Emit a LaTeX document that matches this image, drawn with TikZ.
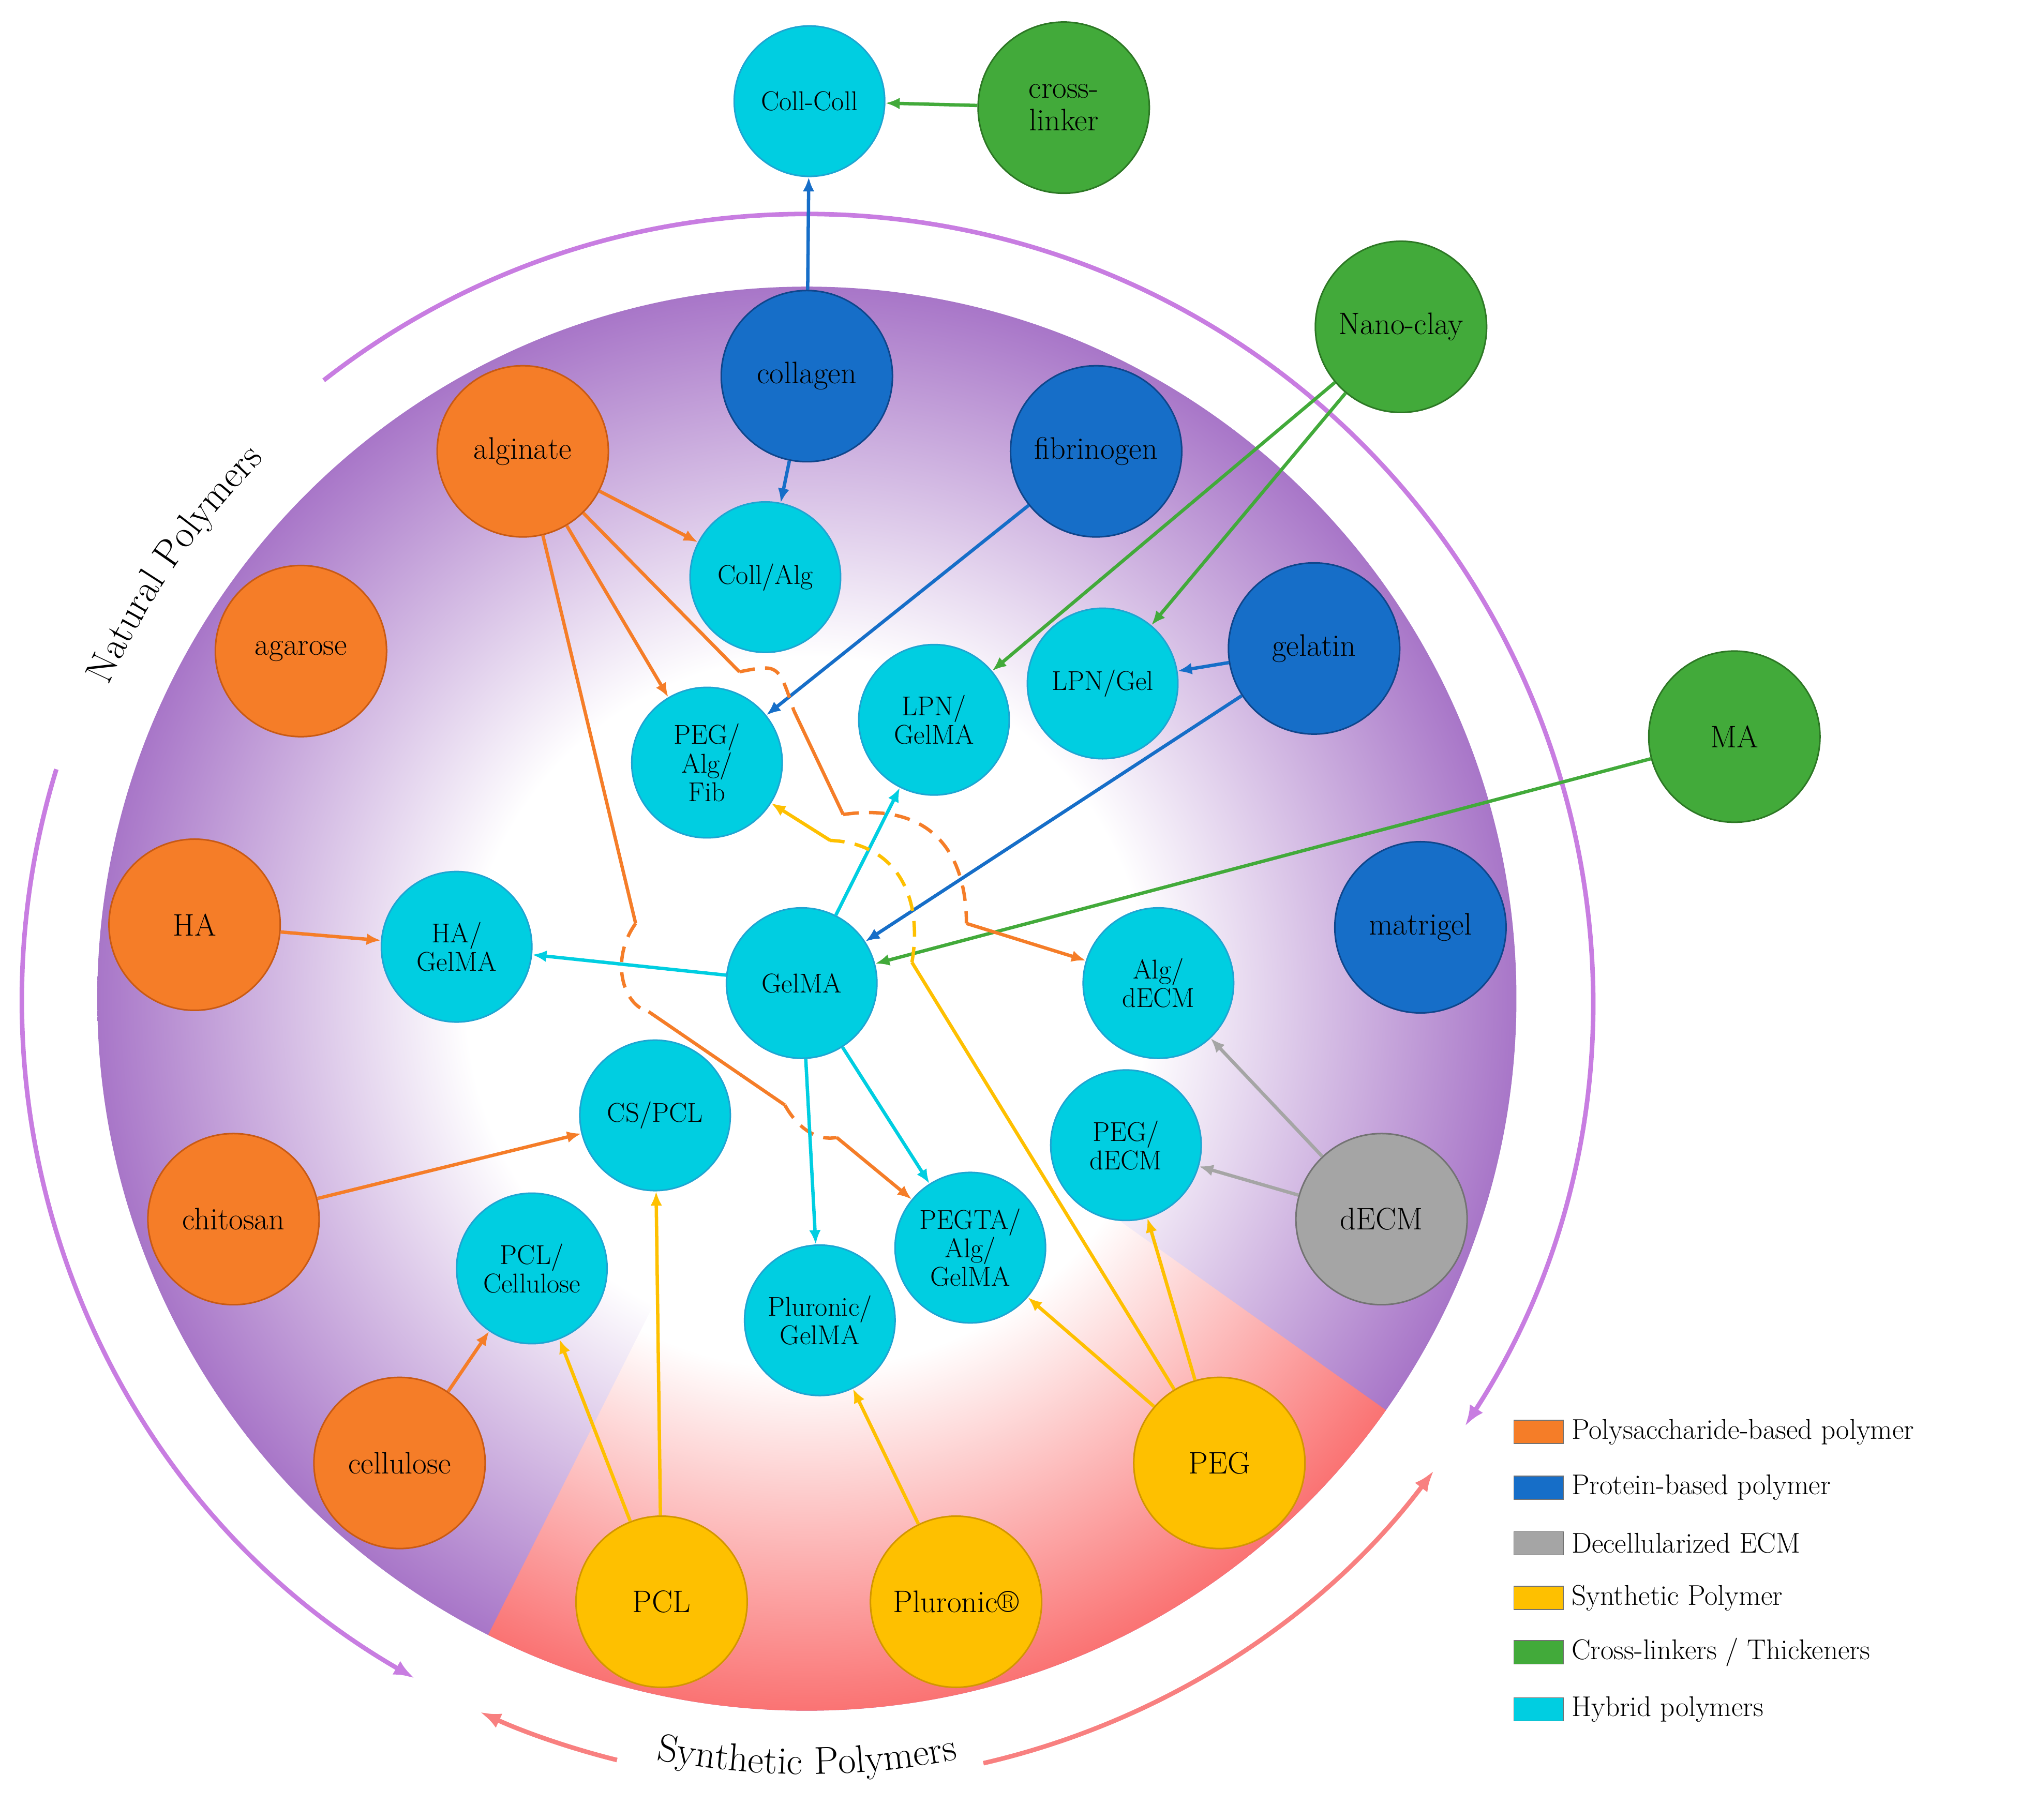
\documentclass[tikz,border=0pt]{standalone}
\usetikzlibrary{arrows.meta,calc,decorations.text}
\definecolor{purp}{RGB}{168,118,200}
\definecolor{redz}{RGB}{250,115,115}
\definecolor{orng}{RGB}{245,125,40}
\definecolor{orngd}{RGB}{200,90,20}
\definecolor{blu}{RGB}{22,110,200}
\definecolor{blud}{RGB}{15,70,140}
\definecolor{cya}{RGB}{0,206,225}
\definecolor{cyad}{RGB}{30,165,210}
\definecolor{grn}{RGB}{66,170,58}
\definecolor{grnd}{RGB}{45,120,37}
\definecolor{yel}{RGB}{254,192,0}
\definecolor{yeld}{RGB}{210,150,0}
\definecolor{gry}{RGB}{165,165,165}
\definecolor{gryd}{RGB}{115,115,115}
\definecolor{natc}{RGB}{200,125,225}
\definecolor{sync}{RGB}{248,128,128}
\pgfdeclareradialshading{purpsh}{\pgfpoint{0bp}{0bp}}{color(0bp)=(white); color(12bp)=(white); color(25bp)=(purp); color(50bp)=(purp)}
\pgfdeclareradialshading{redsh}{\pgfpoint{0bp}{0bp}}{color(0bp)=(white); color(13bp)=(white); color(25bp)=(redz); color(50bp)=(redz)}
\begin{document}
\begin{tikzpicture}[x=1pt,y=1pt,
  big/.style={circle,minimum size=132pt,inner sep=0pt,line width=1.2pt,align=center,font=\fontsize{24}{25}\selectfont},
  hyb/.style={circle,minimum size=116pt,inner sep=0pt,line width=1.2pt,align=center,fill=cya,draw=cyad,font=\fontsize{21}{22}\selectfont},
  po/.style={big,fill=orng,draw=orngd},
  pb/.style={big,fill=blu,draw=blud},
  pg/.style={big,fill=grn,draw=grnd},
  py/.style={big,fill=yel,draw=yeld},
  pgr/.style={big,fill=gry,draw=gryd},
  ar/.style={line width=2.6pt,-{Latex[length=11pt,width=9pt]}},
  ln/.style={line width=2.6pt},
  dsh/.style={line width=2.6pt,dash pattern=on 12pt off 8pt},
  lg/.style={minimum width=38pt,minimum height=18pt,inner sep=0pt,draw=gryd,line width=0.6pt},
  lt/.style={anchor=west,font=\fontsize{22}{23}\selectfont}]
\useasboundingbox (0,0) rectangle (1568,-1403);
\coordinate (C) at (622,-770);
\shade[shading=purpsh] (C) ellipse (547 and 549);
\begin{scope}
\clip (C) -- ++(-116.6:800) arc (-116.6:-35.4:800) -- cycle;
\shade[shading=redsh] (C) ellipse (547 and 549);
\end{scope}
% outer arcs
\draw[natc,line width=3.5pt,-{Latex[length=16pt,width=12pt]}] ($(C)+(163:605)$) arc (163:240:605);
\draw[natc,line width=3.5pt,-{Latex[length=16pt,width=12pt]}] ($(C)+(128:605)$) arc (128:-33:605);
\draw[sync,line width=3.5pt,-{Latex[length=16pt,width=12pt]}] ($(C)+(-104:605)$) arc (-104:-114.6:605);
\draw[sync,line width=3.5pt,-{Latex[length=16pt,width=12pt]}] ($(C)+(-77:605)$) arc (-77:-37:605);
\path[decorate,decoration={text along path,text={|\fontsize{30}{31}\selectfont|Natural Polymers},text align=center}] ($(C)+(164:590)$) arc (164:127:590);
\path[decorate,decoration={text along path,text={|\fontsize{30}{31}\selectfont|Synthetic Polymers},text align=center}] ($(C)+(-106:598)$) arc (-106:-74:598);
% nodes
\node[hyb] (cc) at (624,-78) {Coll-Coll};
\node[pg] (cl) at (820,-83) {cross-\\linker};
\node[pb] (col) at (622,-290) {collagen};
\node[po] (alg) at (403,-348) {alginate};
\node[pb] (fib) at (845,-348) {fibrinogen};
\node[hyb] (ca) at (590,-445) {Coll/Alg};
\node[po] (aga) at (232,-502) {agarose};
\node[pg] (nc) at (1080,-252) {Nano-clay};
\node[pb] (gel) at (1013,-500) {gelatin};
\node[hyb] (lg) at (850,-527) {LPN/Gel};
\node[hyb] (lgm) at (720,-555) {LPN/\\GelMA};
\node[hyb] (paf) at (545,-588) {PEG/\\Alg/\\Fib};
\node[pg] (ma) at (1337,-568) {MA};
\node[pb] (mat) at (1095,-715) {matrigel};
\node[po] (ha) at (150,-713) {HA};
\node[hyb] (hag) at (352,-730) {HA/\\GelMA};
\node[hyb] (gm) at (618,-758) {GelMA};
\node[hyb] (ad) at (893,-758) {Alg/\\dECM};
\node[hyb] (cs) at (505,-860) {CS/PCL};
\node[hyb] (pd) at (868,-883) {PEG/\\dECM};
\node[pgr] (de) at (1065,-940) {dECM};
\node[po] (chi) at (180,-940) {chitosan};
\node[hyb] (pcc) at (410,-978) {PCL/\\Cellulose};
\node[hyb] (pag) at (748,-962) {PEGTA/\\Alg/\\GelMA};
\node[hyb] (plg) at (632,-1018) {Pluronic/\\GelMA};
\node[po] (cel) at (308,-1128) {cellulose};
\node[py] (peg) at (940,-1128) {PEG};
\node[py] (pcl) at (510,-1235) {PCL};
\node[py] (plu) at (737,-1235) {Pluronic\textregistered};
% edges blue
\draw[ar,blu] (col) -- (cc);
\draw[ar,blu] (col) -- (ca);
\draw[ar,blu] (fib) -- (paf);
\draw[ar,blu] (gel) -- (lg);
\draw[ar,blu] (gel) -- (gm);
\draw[ar,grn] (cl) -- (cc);
\draw[ar,grn] (nc) -- (lgm);
\draw[ar,grn] (nc) -- (lg);
\draw[ar,grn] (ma) -- (gm);
% orange
\draw[ar,orng] (alg) -- (ca);
\draw[ar,orng] (alg) -- (paf);
\coordinate (a1) at (570,-518); \coordinate (a2) at (612,-548);
\coordinate (a3) at (650,-628); \coordinate (a4) at (745,-712);
\draw[ln,orng] (alg) -- (a1);
\draw[dsh,orng] (a1) .. controls (600,-512) .. (a2);
\draw[ln,orng] (a2) -- (a3);
\draw[dsh,orng] (a3) .. controls (720,-618) and (745,-660) .. (a4);
\draw[ar,orng] (a4) -- (ad);
\coordinate (b1) at (490,-712); \coordinate (b2) at (500,-780);
\coordinate (b3) at (605,-852); \coordinate (b4) at (645,-877);
\draw[ln,orng] (alg) -- (b1);
\draw[dsh,orng] (b1) .. controls (470,-740) and (480,-775) .. (b2);
\draw[ln,orng] (b2) -- (b3);
\draw[dsh,orng] (b3) .. controls (615,-870) and (630,-880) .. (b4);
\draw[ar,orng] (b4) -- (pag);
\draw[ar,orng] (ha) -- (hag);
\draw[ar,orng] (chi) -- (cs);
\draw[ar,orng] (cel) -- (pcc);
% cyan
\draw[ar,cya] (gm) -- (hag);
\draw[ar,cya] (gm) -- (lgm);
\draw[ar,cya] (gm) -- (plg);
\draw[ar,cya] (gm) -- (pag);
% yellow
\draw[ar,yel] (pcl) -- (cs);
\draw[ar,yel] (pcl) -- (pcc);
\draw[ar,yel] (plu) -- (plg);
\draw[ar,yel] (peg) -- (pag);
\draw[ar,yel] (peg) -- (pd);
\coordinate (c1) at (703,-742); \coordinate (c2) at (640,-648);
\draw[ln,yel] (peg) -- (c1);
\draw[dsh,yel] (c1) .. controls (712,-690) and (690,-650) .. (c2);
\draw[ar,yel] (c2) -- (paf);
% gray
\draw[ar,gry] (de) -- (ad);
\draw[ar,gry] (de) -- (pd);
% legend
\node[lg,fill=orng] (l1) at (1186,-1104) {}; \node[lt] (t1) at (1208,-1104) {Polysaccharide-based polymer};
\node[lg,fill=blu] (l2) at (1186,-1147) {}; \node[lt] (t2) at (1208,-1147) {Protein-based polymer};
\node[lg,fill=gry] (l3) at (1186,-1190) {}; \node[lt] (t3) at (1208,-1190) {Decellularized ECM};
\node[lg,fill=yel] (l4) at (1186,-1232) {}; \node[lt] (t4) at (1208,-1232) {Synthetic Polymer};
\node[lg,fill=grn] (l5) at (1186,-1274) {}; \node[lt] (t5) at (1208,-1274) {Cross-linkers / Thickeners};
\node[lg,fill=cya] (l6) at (1186,-1318) {}; \node[lt] (t6) at (1208,-1318) {Hybrid polymers};
\end{tikzpicture}
\end{document}
